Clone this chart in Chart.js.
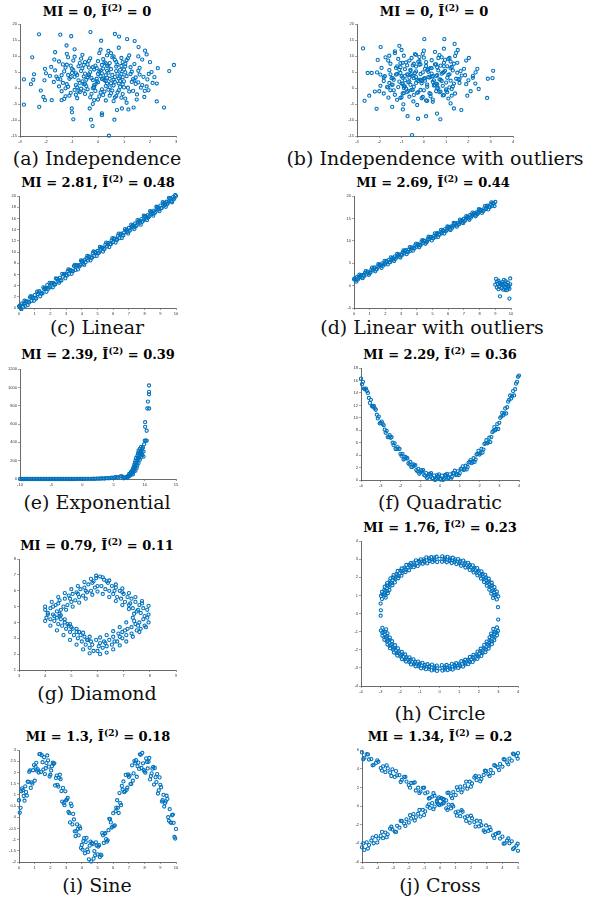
<!DOCTYPE html>
<html>
<head>
<meta charset="utf-8">
<script src="https://cdn.jsdelivr.net/npm/chart.js"></script>
<style>
body { margin: 0; background: #fff; width: 607px; height: 901px; position: relative; overflow: hidden; }
canvas { position: absolute; }
.ttl { position: absolute; transform: translate(-50%, -50%); font-family: "DejaVu Serif"; font-weight: bold; font-size: 13px; white-space: nowrap; color: #000; }
.ttl sup { font-size: 9px; vertical-align: 5px; line-height: 0; }
.cap { position: absolute; transform: translate(-50%, -50%); font-family: "DejaVu Serif"; font-size: 19px; white-space: nowrap; color: #111; }
</style>
</head>
<body>
<script>
// titles / captions
var miLabels = ['0', '0', '2.81', '2.69', '2.39', '2.29', '0.79', '1.76', '1.3', '1.34'];
var iLabels = ['0', '0', '0.48', '0.44', '0.39', '0.36', '0.11', '0.23', '0.18', '0.2'];
var captions = ['(a) Independence', '(b) Independence with outliers', '(c) Linear', '(d) Linear with outliers',
    '(e) Exponential', '(f) Quadratic', '(g) Diamond', '(h) Circle', '(i) Sine', '(j) Cross'];

// (a) independence
var indepPts = [
[-0.8,4.1],[0.3,2.2],[-0.2,6.5],[0.6,0.8],[1.1,3.7],[-1.3,5.2],[0.1,-1.4],[-0.5,8.1],[0.9,6.9],[-0.9,-0.6],
[0.4,4.8],[-0.1,1.1],[1.4,7.5],[-1.1,2.9],[0.7,-2.5],[-0.4,3.3],[0.2,9.0],[1.0,0.2],[-0.6,6.2],[0.5,5.9],
[-1.5,0.5],[1.2,-1.1],[-0.3,-2.9],[0.8,3.0],[0.0,4.4],[-0.7,1.6],[1.6,4.2],[-1.2,7.3],[0.3,7.7],[0.6,-4.1],
[-0.2,0.0],[0.9,9.4],[-0.9,9.8],[1.3,1.9],[-1.6,3.6],[0.1,5.5],[-0.5,-1.9],[0.4,-0.5],[1.7,0.9],[-1.0,4.7],
[0.2,3.0],[-0.3,5.0],[0.7,5.3],[1.5,-2.0],[-1.4,-1.0],[0.0,-3.6],[-0.6,10.4],[0.5,10.9],[1.1,8.7],[-0.8,-3.2],
[0.3,0.6],[-0.1,7.0],[0.8,1.4],[-1.2,1.2],[1.9,2.7],[-1.8,6.6],[0.6,2.6],[-0.4,-0.4],[1.0,5.8],[-0.7,7.8],
[0.2,-2.2],[0.9,-3.0],[-1.1,-2.4],[0.4,6.8],[-0.2,2.5],[1.3,5.1],[-1.5,8.3],[0.7,8.2],[-0.9,3.5],[0.1,3.7],
[1.6,6.3],[-0.5,4.5],[0.5,-1.6],[-1.3,-3.4],[1.2,10.2],[-0.3,9.3],[0.0,1.8],[0.8,-0.7],[-0.7,-1.3],[1.8,-0.9],
[-1.7,1.9],[0.3,4.0],[-0.1,-0.9],[0.6,9.9],[-0.6,2.1],[1.4,2.4],[-1.0,6.0],[0.2,6.1],[0.9,4.4],[-0.4,7.4],
[2.1,1.6],[-2.0,4.6],[0.5,1.5],[-0.8,0.3],[1.1,-4.6],[-0.2,-5.0],[0.4,11.6],[-1.2,10.7],[1.7,8.9],[0.0,8.4],
[2.3,6.2],[-2.2,-0.8],[0.7,6.7],[-0.5,1.3],[1.0,2.1],[-1.4,4.0],[0.3,-3.9],[-0.9,12.1],[0.8,12.6],[0.1,12.0],
[-0.35,3.9],[0.45,2.9],[-0.15,5.8],[0.65,1.9],[1.05,4.9],[-1.15,4.1],[0.15,-0.4],[-0.55,7.2],[0.85,5.7],[-0.85,0.9],
[0.35,5.4],[-0.05,2.1],[1.25,6.5],[-1.05,3.4],[0.75,-1.4],[-0.45,2.6],[0.25,8.0],[0.95,1.2],[-0.65,5.3],[0.55,4.1],
[-1.35,1.6],[1.15,0.1],[-0.25,-1.8],[0.85,3.6],[0.05,5.1],[-0.75,2.4],[1.45,3.3],[-1.25,6.4],[0.35,6.9],[0.65,-2.9],
[-0.15,0.9],[0.95,8.1],[-0.95,8.6],[1.35,2.8],[-1.45,2.7],[0.15,4.6],[-0.55,-0.8],[0.45,0.2],[1.55,1.8],[-0.95,5.6],
[0.25,2.4],[-0.35,4.3],[0.75,4.5],[1.35,-0.9],[-1.25,-0.1],[0.05,-2.6],[-0.65,9.2],[0.55,9.6],[1.05,7.6],[-0.85,-2.1],
[0.35,1.4],[-0.05,6.2],[0.85,2.2],[-1.15,0.4],[1.75,3.5],[-1.65,5.5],[0.65,3.4],[-0.45,0.6],[1.05,6.7],[-0.75,6.8],
[0.25,-1.1],[0.95,-1.9],[-1.05,-1.5],[0.45,7.8],[-0.25,3.1],[1.25,4.4],[-1.35,7.4],[0.75,7.3],[-0.85,4.6],[0.15,2.8],
[1.55,5.4],[-0.55,3.6],[0.55,-0.8],[-1.25,-2.6],[1.15,9.3],[-0.35,8.5],[-0.05,2.9],[0.85,0.3],[-0.65,-0.2],[1.65,0.1],
[-1.55,2.9],[0.35,3.2],[-0.15,0.2],[0.65,8.8],[-0.55,1.2],[1.45,1.3],[-1.05,7.0],[0.15,7.2],[0.95,3.4],[-0.35,6.4],
[1.95,4.4],[-1.85,3.8],[0.45,-2.4],[-0.75,-0.9],[1.05,-3.3],[-0.15,-3.8],[0.35,10.2],[-1.15,9.6],[1.55,9.9],[0.05,10.9],
[-2.27,16.8],[-1.45,16.7],[-1.03,16.2],[-0.29,17.5],[0.65,16.9],[0.81,16.1],[-2.85,2.7],[-2.85,-5.2],[-2.53,9.6],
[-2.26,-5.9],[2.92,7.2],[2.74,5.3],[2.54,-6.1],[2.26,-4.2],[0.42,-14.9],[-0.21,-11.9],[-0.27,-9.9],[0.63,-9.9],
[-0.95,-9.8],[-1.0,-7.6],[0.15,-7.9],[1.12,15.3],[1.41,14.7],[1.56,12.8],[1.81,11.7],[1.87,10.5],[0.12,14.8],
[-2.49,2.6],[-2.46,4.3],[-2.58,1.2],[-2.04,6.0],[-2.06,2.4],[-2.1,-2.8],[-2.04,-3.8],[-1.78,-3.8],[-1.65,11.2],
[-1.68,8.9],[-1.21,13.3],[2.0,8.1],[2.06,5.0],[2.17,3.4],[2.26,1.4],[1.87,0.5],[1.94,-0.7],[1.78,-2.8],[1.49,-3.6],
[1.37,-6.1],[1.17,-6.7],[0.92,-6.4],[0.73,-6.9],[0.15,-8.5],[-0.32,-6.4],[-1.01,-6.4],[-1.4,-3.8]
];

// (b) independence with outliers
var indepOutPts = [
[-0.5,3.8],[0.4,1.9],[0.1,6.9],[-0.9,0.6],[0.8,4.5],[-1.4,3.1],[0.3,-1.8],[-0.2,8.4],[1.2,6.2],[-0.7,-0.9],
[0.6,4.0],[-1.0,1.4],[1.5,7.9],[-0.3,2.6],[0.9,-2.2],[-0.6,5.4],[0.0,9.5],[1.3,0.5],[-1.2,6.8],[0.2,5.1],
[-1.6,0.2],[1.0,-0.8],[-0.1,-3.2],[0.7,2.7],[-0.4,4.7],[-1.1,2.0],[1.7,3.9],[-1.5,7.6],[0.5,7.4],[0.4,-4.3],
[-0.8,-0.2],[1.1,9.1],[-0.9,10.1],[1.6,1.6],[-1.8,3.3],[0.2,5.9],[-0.3,-1.5],[0.6,-0.1],[1.9,1.2],[-1.2,4.4],
[0.0,2.9],[-0.6,5.7],[0.9,5.0],[1.4,-1.7],[-1.5,-0.7],[0.1,-3.9],[-0.4,10.6],[0.7,10.3],[1.2,8.3],[-1.0,-2.9],
[0.5,0.9],[-0.2,7.3],[1.0,1.7],[-1.4,1.0],[2.0,2.4],[-1.9,6.3],[0.8,2.2],[-0.5,-0.6],[1.3,5.5],[-0.8,8.0],
[0.3,-2.6],[1.1,-3.3],[-1.3,-2.1],[0.6,6.5],[-0.1,2.2],[1.5,4.8],[-1.6,8.6],[0.9,7.9],[-1.0,3.7],[0.2,3.4],
[1.8,6.0],[-0.7,4.2],[0.7,-1.3],[-1.2,-3.7],[1.4,10.0],[-0.2,9.7],[-0.1,1.5],[1.0,-0.4],[-0.9,-1.6],[2.1,-1.0],
[-1.8,2.2],[0.4,3.7],[0.0,-0.7],[0.8,9.6],[-0.7,1.8],[1.6,2.8],[-1.1,5.7],[0.3,6.3],[1.1,4.1],[-0.5,7.1],
[2.2,3.8],[-2.1,4.9],[0.6,1.2],[-0.9,0.0],[1.2,-4.8],[-0.3,-5.3],[0.5,11.3],[-1.3,10.9],[1.9,8.6],[0.1,8.1],
[2.4,6.0],[-2.2,-1.1],[0.9,6.8],[-0.6,1.0],[1.2,2.3],[-1.5,4.3],[0.4,-3.6],[-1.0,11.9],[0.9,12.3],[0.0,11.7],
[0.35,3.6],[-0.45,3.1],[0.15,5.6],[-0.65,2.0],[-1.05,4.7],[1.15,4.3],[-0.15,-0.6],[0.55,7.4],[-0.85,5.9],[0.85,0.7],
[-0.35,5.2],[0.05,2.3],[-1.25,6.3],[1.05,3.2],[-0.75,-1.2],[0.45,2.4],[-0.25,8.2],[-0.95,1.4],[0.65,5.5],[-0.55,4.3],
[1.35,1.4],[-1.15,0.3],[0.25,-1.6],[-0.85,3.8],[-0.05,4.9],[0.75,2.6],[-1.45,3.1],[1.25,6.6],[-0.35,6.7],[-0.65,-2.7],
[0.15,1.1],[-0.95,7.9],[0.95,8.8],[-1.35,2.6],[1.45,2.9],[-0.15,4.4],[0.55,-1.0],[-0.45,0.4],[-1.55,1.6],[0.95,5.4],
[-0.25,2.2],[0.35,4.5],[-0.75,4.3],[-1.35,-0.7],[1.25,-0.3],[-0.05,-2.8],[0.65,9.4],[-0.55,9.4],[-1.05,7.8],[0.85,-2.3],
[-0.35,1.6],[0.05,6.0],[-0.85,2.4],[1.15,0.2],[-1.75,3.7],[1.65,5.3],[-0.65,3.2],[0.45,0.8],[-1.05,6.5],[0.75,7.0],
[-0.25,-1.3],[-0.95,-1.7],[1.05,-1.3],[-0.45,7.6],[0.25,3.3],[-1.25,4.2],[1.35,7.6],[-0.75,7.1],[0.85,4.8],[-0.15,2.6],
[-1.55,5.6],[0.55,3.8],[-0.55,-0.6],[1.25,-2.4],[-1.15,9.1],[0.35,8.7],[0.05,3.1],[-0.85,0.5],[0.65,0.0],[-1.65,0.3],
[1.55,2.7],[-0.35,3.4],[0.15,0.4],[-0.65,8.6],[0.55,1.4],[-1.45,1.1],[1.05,6.8],[-0.15,7.4],[-0.95,3.2],[0.35,6.2],
[-1.95,4.2],[1.85,4.0],[-0.45,-2.2],[0.75,-1.1],[-1.05,-3.1],[0.15,-4.0],[-0.35,10.4],[1.15,9.4],[-1.55,10.1],[-0.05,10.7],
[-2.73,12.4],[-1.94,12.8],[-1.1,13.2],[0.02,15.3],[0.92,15.3],[1.38,13.8],[-2.66,-4.0],[-2.45,-2.4],[-2.12,-6.5],
[-2.34,4.7],[-2.52,4.7],[-2.07,8.8],[3.11,5.4],[3.08,3.1],[2.87,2.9],[2.84,-3.1],[2.46,-0.3],[2.31,1.4],[2.32,4.9],
[2.02,9.4],[1.68,-6.9],[1.35,-6.4],[0.74,-9.8],[0.1,-8.8],[-0.26,-9.6],[-0.73,-8.8],[-0.53,-14.7],[-0.94,-6.7],
[-0.92,-5.1],[-0.47,-4.2],[0.59,-8.0],[-1.42,-5.9],[-1.59,-3.0],[-1.8,-1.7],[-1.95,0.7],[1.52,11.9],[1.45,11.0],
[-1.72,9.6],[-1.3,11.5],[2.2,3.2],[1.95,-2.4],[-2.0,-1.0]
];

// (c) linear
var linearPts = [
[0.0,0.3],[0.1,0.0],[0.2,0.8],[0.3,0.7],[0.4,0.4],[0.5,1.2],[0.6,1.1],[0.7,1.9],[0.8,1.3],[0.9,1.8],
[1.0,2.3],[1.1,1.7],[1.2,2.5],[1.3,3.0],[1.4,2.6],[1.5,2.6],[1.6,3.4],[1.7,3.4],[1.8,4.1],[1.9,3.7],
[2.0,3.7],[2.1,4.5],[2.2,4.5],[2.3,4.2],[2.4,5.2],[2.5,4.8],[2.6,5.4],[2.7,4.9],[2.8,5.6],[2.9,6.1],
[3.0,5.9],[3.1,6.6],[3.2,6.1],[3.3,6.7],[3.4,6.6],[3.5,7.5],[3.6,6.8],[3.7,7.6],[3.8,7.6],[3.9,7.7],
[4.0,8.3],[4.1,7.9],[4.2,8.6],[4.3,8.9],[4.4,8.5],[4.5,9.2],[4.6,9.0],[4.7,9.8],[4.8,9.3],[4.9,9.9],
[5.0,10.2],[5.1,9.9],[5.2,10.6],[5.3,10.8],[5.4,10.5],[5.5,11.3],[5.6,11.0],[5.7,11.6],[5.8,11.4],[5.9,12.1],
[6.0,11.8],[6.1,12.4],[6.2,12.2],[6.3,12.9],[6.4,12.5],[6.5,13.3],[6.6,13.0],[6.7,13.5],[6.8,13.8],[6.9,13.6],
[7.0,14.3],[7.1,14.0],[7.2,14.6],[7.3,14.4],[7.4,15.1],[7.5,14.8],[7.6,15.4],[7.7,15.2],[7.8,15.9],[7.9,15.6],
[8.0,16.3],[8.1,16.0],[8.2,16.6],[8.3,16.4],[8.4,17.1],[8.5,16.8],[8.6,17.4],[8.7,17.2],[8.8,17.9],[8.9,17.6],
[9.0,18.3],[9.1,17.9],[9.2,18.6],[9.3,18.4],[9.4,19.0],[9.5,18.8],[9.6,19.5],[9.7,19.1],[9.8,19.8],[9.9,19.6],
[10.0,20.0],
[0.05,0.4],[0.25,0.2],[0.45,1.2],[0.65,1.0],[0.85,2.0],[1.05,1.8],[1.25,2.8],[1.45,2.6],[1.65,3.6],[1.85,3.4],
[2.05,4.4],[2.25,4.2],[2.45,5.2],[2.65,5.0],[2.85,6.0],[3.05,5.8],[3.25,6.8],[3.45,6.6],[3.65,7.6],[3.85,7.4],
[4.05,8.4],[4.25,8.2],[4.45,9.2],[4.65,9.0],[4.85,10.0],[5.05,9.8],[5.25,10.8],[5.45,10.6],[5.65,11.6],[5.85,11.4],
[6.05,12.4],[6.25,12.2],[6.45,13.2],[6.65,13.0],[6.85,14.0],[7.05,13.8],[7.25,14.8],[7.45,14.6],[7.65,15.6],[7.85,15.4],
[8.05,16.4],[8.25,16.2],[8.45,17.2],[8.65,17.0],[8.85,18.0],[9.05,17.8],[9.25,18.8],[9.45,18.6],[9.65,19.6],[9.85,19.4],
[0.15,-0.2],[0.35,1.3],[0.55,0.5],[0.75,2.1],[0.95,1.3],[1.15,2.9],[1.35,2.1],[1.55,3.7],[1.75,2.9],[1.95,4.5],
[2.15,3.7],[2.35,5.3],[2.55,4.5],[2.75,6.1],[2.95,5.3],[3.15,6.9],[3.35,6.1],[3.55,7.7],[3.75,6.9],[3.95,8.5],
[4.15,7.7],[4.35,9.3],[4.55,8.5],[4.75,10.1],[4.95,9.3],[5.15,10.9],[5.35,10.1],[5.55,11.7],[5.75,10.9],[5.95,12.5],
[6.15,11.7],[6.35,13.3],[6.55,12.5],[6.75,14.1],[6.95,13.3],[7.15,14.9],[7.35,14.1],[7.55,15.7],[7.75,14.9],[7.95,16.5],
[8.15,15.7],[8.35,17.3],[8.55,16.5],[8.75,18.1],[8.95,17.3],[9.15,18.9],[9.35,18.1],[9.55,19.7],[9.75,18.9],[9.95,20.2]
];

// (d) linear with outliers
var linOutPts = [
[0.0,1.45],[0.1,1.21],[0.2,1.94],[0.3,1.72],[0.4,2.11],[0.5,1.83],[0.6,2.37],[0.7,2.84],[0.8,2.51],[0.9,3.03],
[1.0,2.75],[1.1,3.50],[1.2,3.40],[1.3,4.09],[1.4,3.61],[1.5,4.13],[1.6,4.49],[1.7,4.31],[1.8,4.99],[1.9,4.82],
[2.0,4.78],[2.1,5.35],[2.2,5.71],[2.3,5.24],[2.4,5.88],[2.5,5.80],[2.6,6.54],[2.7,6.29],[2.8,6.75],[2.9,6.47],
[3.0,6.98],[3.1,7.41],[3.2,7.21],[3.3,7.92],[3.4,7.51],[3.5,8.02],[3.6,7.77],[3.7,8.51],[3.8,8.44],[3.9,9.00],
[4.0,8.71],[4.1,9.13],[4.2,8.97],[4.3,9.80],[4.4,9.54],[4.5,9.99],[4.6,9.64],[4.7,10.46],[4.8,10.40],[4.9,10.89],
[5.0,10.61],[5.1,11.08],[5.2,10.86],[5.3,11.75],[5.4,11.50],[5.5,11.94],[5.6,11.70],[5.7,12.17],[5.8,12.64],[5.9,12.39],
[6.0,12.94],[6.1,12.55],[6.2,13.21],[6.3,13.25],[6.4,13.81],[6.5,13.42],[6.6,14.03],[6.7,13.76],[6.8,14.33],[6.9,14.10],
[7.0,14.94],[7.1,14.69],[7.2,15.22],[7.3,14.98],[7.4,15.78],[7.5,15.56],[7.6,15.89],[7.7,15.68],[7.8,16.34],[7.9,16.19],
[8.0,16.83],[8.1,16.79],[8.2,16.60],[8.3,17.27],[8.4,17.11],[8.5,17.87],[8.6,17.63],[8.7,18.13],[8.8,17.83],[8.9,18.30],
[9.0,18.68],
[0.05,1.60],[0.25,1.38],[0.45,2.36],[0.65,2.15],[0.85,3.13],[1.05,2.92],[1.25,3.90],[1.45,3.68],[1.65,4.67],[1.85,4.45],
[2.05,5.44],[2.25,5.22],[2.45,6.20],[2.65,5.99],[2.85,6.97],[3.05,6.76],[3.25,7.74],[3.45,7.52],[3.65,8.51],[3.85,8.29],
[4.05,9.28],[4.25,9.06],[4.45,10.04],[4.65,9.83],[4.85,10.81],[5.05,10.60],[5.25,11.58],[5.45,11.36],[5.65,12.35],[5.85,12.13],
[6.05,13.12],[6.25,12.90],[6.45,13.88],[6.65,13.67],[6.85,14.65],[7.05,14.44],[7.25,15.42],[7.45,15.20],[7.65,16.19],[7.85,15.97],
[8.05,16.96],[8.25,16.74],[8.45,17.72],[8.65,17.51],[8.85,18.49],
[0.15,0.89],[0.35,2.47],[0.55,1.66],[0.75,3.24],[0.95,2.42],[1.15,4.01],[1.35,3.19],[1.55,4.78],[1.75,3.96],[1.95,5.54],
[2.15,4.73],[2.35,6.31],[2.55,5.50],[2.75,7.08],[2.95,6.26],[3.15,7.85],[3.35,7.03],[3.55,8.62],[3.75,7.80],[3.95,9.38],
[4.15,8.57],[4.35,10.15],[4.55,9.34],[4.75,10.92],[4.95,10.10],[5.15,11.69],[5.35,10.87],[5.55,12.46],[5.75,11.64],[5.95,13.22],
[6.15,12.41],[6.35,13.99],[6.55,13.18],[6.75,14.76],[6.95,13.94],[7.15,15.53],[7.35,14.71],[7.55,16.30],[7.75,15.48],[7.95,17.06],
[8.15,16.25],[8.35,17.83],[8.55,17.02],[8.75,18.60],[8.95,17.78],
[9.05,1.5],[9.1,0.9],[9.15,0.4],[9.2,1.1],[9.25,-0.2],[9.3,0.6],[9.3,-2.4],[9.35,0.2],[9.4,-0.6],[9.45,0.8],
[9.5,0.1],[9.5,-0.9],[9.55,1.3],[9.6,-0.3],[9.6,0.5],[9.65,-1.0],[9.7,0.3],[9.7,-0.5],[9.75,-1.0],[9.8,0.7],
[9.8,-0.2],[9.85,0.0],[9.9,-0.7],[9.9,-2.9],[9.95,1.6],[9.95,0.3],[9.0,0.2],[9.1,-0.4],[9.2,-0.8],[9.4,0.4],
[9.65,1.0],[9.85,-0.4]
];

// (e) exponential
var expPts = [
[-10.0,0],[-9.75,0],[-9.5,0],[-9.25,0],[-9.0,0],[-8.75,0],[-8.5,0],[-8.25,0],[-8.0,0],[-7.75,0],
[-7.5,0],[-7.25,0],[-7.0,0],[-6.75,0],[-6.5,0],[-6.25,0],[-6.0,0],[-5.75,0],[-5.5,0],[-5.25,0],
[-5.0,0],[-4.75,0],[-4.5,0],[-4.25,0],[-4.0,0],[-3.75,0],[-3.5,0],[-3.25,0],[-3.0,0],[-2.75,0],
[-2.5,0.1],[-2.25,0.1],[-2.0,0.1],[-1.75,0.1],[-1.5,0.2],[-1.25,0.2],[-1.0,0.3],[-0.75,0.4],[-0.5,0.5],[-0.25,0.6],
[0.0,0.8],[0.25,1.0],[0.5,1.3],[0.75,1.5],[1.0,1.9],[1.25,1.6],[1.5,2.4],[1.75,2.9],[2.0,2.2],[2.25,3.8],
[2.5,4.1],[2.75,3.4],[3.0,5.6],[3.25,6.2],[3.5,4.8],[3.75,8.1],[4.0,9.5],[4.25,7.2],[4.5,12.4],[4.75,14.0],
[5.0,10.6],[5.25,18.9],[5.5,21.3],[5.75,15.2],[6.0,27.0],[6.25,31.5],[6.5,22.4],
[6.6,8],[6.8,12],[7.0,15],[7.1,22],[7.2,18],[7.3,30],[7.4,25],[7.5,40],[7.5,55],[7.6,35],
[7.7,64],[7.8,48],[7.8,80],[7.9,60],[8.0,95],[8.0,70],[8.1,110],[8.1,52],[8.2,130],[8.2,88],
[8.3,150],[8.3,100],[8.4,120],[8.4,175],[8.5,135],[8.5,200],[8.5,90],[8.6,160],[8.6,230],[8.7,180],
[8.7,120],[8.8,250],[8.8,200],[8.8,150],[8.9,220],[8.9,280],[9.0,175],[9.0,260],[9.0,310],[9.1,230],
[9.1,290],[9.2,210],[9.2,330],[9.3,270],[9.3,300],[9.4,240],[9.4,350],[9.5,309],[9.5,280],[9.6,260],
[9.6,330],[9.7,344],[9.8,245],[9.8,300],[9.9,380],[10.0,420],[10.15,419],[10.3,419],[10.05,620],[10.05,570],
[10.3,527],[10.4,770],[10.7,770],[10.5,845],[10.68,925],[10.68,951],[10.68,1021]
];

// (f) quadratic
var quadPts = [
[-4.0,16.3],[-3.9,15.8],[-3.8,14.6],[-3.7,14.3],[-3.6,13.2],[-3.5,12.9],[-3.4,11.8],[-3.3,11.5],[-3.2,10.5],[-3.1,10.2],
[-3.0,9.2],[-2.9,9.0],[-2.8,8.1],[-2.7,7.9],[-2.6,6.9],[-2.5,6.8],[-2.4,6.0],[-2.3,5.9],[-2.2,5.0],[-2.1,5.0],
[-2.0,4.2],[-1.9,4.2],[-1.8,3.4],[-1.7,3.5],[-1.6,2.7],[-1.5,2.9],[-1.4,2.1],[-1.3,2.3],[-1.2,1.6],[-1.1,1.8],
[-1.0,1.2],[-0.9,1.4],[-0.8,0.8],[-0.7,1.1],[-0.6,0.5],[-0.5,0.9],[-0.4,0.3],[-0.3,0.7],[-0.2,0.2],[-0.1,0.6],
[0.0,0.1],[0.1,0.7],[0.2,0.2],[0.3,0.8],[0.4,0.3],[0.5,0.9],[0.6,0.5],[0.7,1.1],[0.8,0.8],[0.9,1.4],
[1.0,1.1],[1.1,1.8],[1.2,1.6],[1.3,2.3],[1.4,2.1],[1.5,2.9],[1.6,2.7],[1.7,3.5],[1.8,3.3],[1.9,4.2],
[2.0,4.1],[2.1,5.0],[2.2,4.9],[2.3,5.9],[2.4,5.9],[2.5,6.8],[2.6,6.9],[2.7,7.9],[2.8,8.0],[2.9,9.0],
[3.0,9.2],[3.1,10.2],[3.2,10.4],[3.3,11.5],[3.4,11.7],[3.5,12.9],[3.6,13.1],[3.7,14.3],[3.8,14.6],[3.9,15.8],
[4.0,16.8],
[-3.95,15.4],[-3.75,14.7],[-3.55,12.4],[-3.35,11.9],[-3.15,9.9],[-2.95,9.4],[-2.75,7.6],[-2.55,7.2],[-2.35,5.6],[-2.15,5.3],
[-1.95,3.9],[-1.75,3.7],[-1.55,2.5],[-1.35,2.5],[-1.15,1.4],[-0.95,1.6],[-0.75,0.7],[-0.55,1.0],[-0.35,0.3],[-0.15,0.8],
[0.05,0.2],[0.25,0.8],[0.45,0.4],[0.65,1.1],[0.85,0.9],[1.05,1.8],[1.25,1.7],[1.45,2.8],[1.65,2.9],[1.85,4.1],
[2.05,4.3],[2.25,5.8],[2.45,6.1],[2.65,7.7],[2.85,8.2],[3.05,10.0],[3.25,10.7],[3.45,12.6],[3.65,13.5],[3.85,15.5],
[-3.85,14.7],[-3.65,14.0],[-3.45,11.9],[-3.25,11.3],[-3.05,9.1],[-2.85,8.8],[-2.65,6.9],[-2.45,6.9],[-2.25,5.0],[-2.05,5.0],
[-1.85,3.3],[-1.65,3.5],[-1.45,2.1],[-1.25,2.4],[-1.05,1.0],[-0.85,1.6],[-0.65,0.3],[-0.45,1.1],[-0.25,0.0],[-0.05,0.9],
[0.15,0.0],[0.35,1.0],[0.55,0.2],[0.75,1.5],[0.95,0.8],[1.15,2.2],[1.35,1.7],[1.55,3.2],[1.75,2.9],[1.95,4.7],
[2.15,4.4],[2.35,6.4],[2.55,6.1],[2.75,8.5],[2.95,8.2],[3.15,10.8],[3.35,10.7],[3.55,13.6],[3.75,13.6],[3.95,16.6]
];

// (g) diamond
var diamondPts = [
[4.1,4.5],[4.2,4.9],[4.35,4.4],[4.3,5.0],[4.45,4.7],[4.5,5.2],[4.6,4.8],[4.55,5.4],[4.7,5.0],[4.75,5.5],
[4.85,5.1],[4.9,5.7],[5.0,5.3],[5.05,5.8],[5.15,5.4],[5.2,5.9],[5.3,5.6],[5.35,6.1],[5.45,5.7],[5.5,6.2],
[5.6,5.9],[5.65,6.4],[5.75,6.0],[5.8,6.5],[5.9,6.2],[5.95,6.8],[6.0,6.3],[5.85,6.6],[4.95,5.5],[4.4,5.1],
[5.55,6.0],[5.25,5.8],
[6.1,6.9],[6.15,6.3],[6.25,6.7],[6.3,6.1],[6.4,6.5],[6.45,6.0],[6.55,6.3],[6.6,5.8],[6.7,6.2],[6.75,5.6],
[6.85,6.0],[6.9,5.5],[7.0,5.8],[7.05,5.3],[7.15,5.6],[7.2,5.1],[7.3,5.5],[7.35,4.9],[7.45,5.3],[7.5,4.7],
[7.6,5.1],[7.65,4.6],[7.75,4.9],[7.8,4.4],[7.9,4.8],[7.95,4.5],[7.7,5.2],[6.35,6.6],[6.95,5.9],[7.25,5.2],
[6.65,6.0],[7.55,4.8],
[7.9,4.3],[7.95,4.0],[7.75,4.2],[7.8,3.8],[7.6,4.0],[7.65,3.6],[7.45,3.9],[7.5,3.5],[7.3,3.7],[7.3,3.3],
[7.15,3.6],[7.1,3.2],[6.95,3.4],[6.95,3.0],[6.8,3.3],[6.75,2.8],[6.6,3.1],[6.55,2.6],[6.45,2.9],[6.35,2.5],
[6.25,2.8],[6.2,2.4],[6.1,2.7],[6.0,2.2],[5.95,2.9],[6.05,2.5],[7.55,3.8],[7.05,3.5],[6.65,2.8],[7.4,4.1],
[6.85,3.1],[6.3,2.7],
[5.85,2.2],[5.8,2.6],[5.7,2.4],[5.65,2.9],[5.55,2.6],[5.5,3.1],[5.4,2.8],[5.35,3.2],[5.25,3.0],[5.2,3.4],
[5.1,3.2],[5.05,3.6],[4.95,3.4],[4.9,3.8],[4.8,3.6],[4.75,4.0],[4.65,3.8],[4.6,4.2],[4.5,3.9],[4.45,4.3],
[4.35,4.1],[4.3,4.5],[4.2,4.2],[4.1,4.6],[4.05,4.3],[4.0,4.8],[5.75,2.8],[5.3,3.4],[4.85,3.9],[4.55,4.4],
[5.6,2.9],[5.0,3.7],
[4.0,5.0],[4.25,5.3],[4.5,5.6],[4.75,5.85],[5.0,6.1],[5.25,6.3],[5.5,6.55],[5.75,6.75],[5.95,6.95],
[4.55,4.55],[4.8,4.8],[5.05,5.0],[5.3,5.25],[5.55,5.5],[5.8,5.75],[6.0,5.95],
[6.2,6.85],[6.45,6.65],[6.7,6.4],[6.95,6.15],[7.2,5.85],[7.45,5.6],[7.7,5.35],[7.95,5.05],
[6.2,5.8],[6.45,5.6],[6.7,5.35],[6.95,5.1],[7.2,4.85],[7.4,4.55],
[7.85,3.7],[7.6,3.4],[7.35,3.1],[7.1,2.8],[6.85,2.55],[6.6,2.3],[6.35,2.1],[6.1,2.0],
[7.35,4.3],[7.1,4.0],[6.85,3.7],[6.6,3.45],[6.35,3.2],[6.1,3.05],
[5.7,2.05],[5.45,2.3],[5.2,2.6],[4.95,2.9],[4.7,3.2],[4.45,3.5],[4.2,3.8],[4.0,4.1],
[5.7,3.1],[5.45,3.35],[5.2,3.6],[4.95,3.9],[4.75,4.2],[4.6,4.45]
];

// (h) circle
var circlePts = [
[2.92,0.78],[2.84,1.03],[2.74,1.28],[2.62,1.51],[2.47,1.73],[2.31,1.94],[2.14,2.14],[1.94,2.31],[1.73,2.47],[1.51,2.62],
[1.28,2.74],[1.03,2.84],[0.78,2.92],[0.52,2.97],[0.26,3.01],[0.0,3.02],
[2.73,0.86],[2.64,1.10],[2.54,1.32],[2.41,1.54],[2.27,1.74],[2.11,1.93],[1.93,2.11],[1.74,2.27],[1.54,2.41],[1.32,2.54],
[1.10,2.64],[0.86,2.73],[0.62,2.79],[0.37,2.83],[0.13,2.86],
[2.99,0.95],[2.92,1.21],[2.80,1.46],[2.66,1.70],[2.51,1.92],[2.33,2.14],[2.14,2.33],[1.92,2.51],[1.70,2.66],[1.46,2.80],
[1.21,2.92],[0.95,3.01],[0.68,3.08],[0.41,3.13],[0.14,3.16],
[2.91,1.06],[2.81,1.31],[2.68,1.55],[2.54,1.78],[2.37,1.99],[2.19,2.19],[1.99,2.37],[1.78,2.54],[1.55,2.68],[1.31,2.81],
[1.06,2.91],[0.80,2.99],[0.54,3.05],[0.27,3.09],
[2.76,1.01],[2.66,1.24],[2.55,1.47],[2.41,1.69],[2.25,1.89],[2.08,2.08],[1.89,2.25],[1.69,2.41],[1.47,2.55],[1.24,2.66],
[1.01,2.76],[0.76,2.84],[0.51,2.90],[0.26,2.93],
[-2.93,0.80],[-2.83,1.05],[-2.75,1.26],[-2.61,1.53],[-2.48,1.71],[-2.30,1.96],[-2.15,2.12],[-1.93,2.33],[-1.74,2.45],[-1.50,2.64],
[-1.29,2.72],[-1.02,2.86],[-0.79,2.90],[-0.51,2.99],[-0.27,2.99],
[-2.74,0.88],[-2.63,1.12],[-2.55,1.30],[-2.40,1.56],[-2.28,1.72],[-2.10,1.95],[-1.94,2.09],[-1.73,2.29],[-1.55,2.39],[-1.31,2.56],
[-1.11,2.62],[-0.85,2.75],[-0.63,2.77],[-0.36,2.85],[-0.12,2.84],
[-2.98,0.97],[-2.93,1.19],[-2.79,1.48],[-2.67,1.68],[-2.50,1.94],[-2.34,2.12],[-2.13,2.35],[-1.93,2.49],[-1.69,2.68],[-1.47,2.78],
[-1.20,2.94],[-0.96,2.99],[-0.67,3.10],[-0.42,3.11],[-0.15,3.14],
[-2.91,1.06],[-2.81,1.31],[-2.68,1.55],[-2.54,1.78],[-2.37,1.99],[-2.19,2.19],[-1.99,2.37],[-1.78,2.54],[-1.55,2.68],[-1.31,2.81],
[-1.06,2.91],[-0.80,2.99],[-0.54,3.05],[-0.27,3.09],
[-2.76,1.01],[-2.66,1.24],[-2.55,1.47],[-2.41,1.69],[-2.25,1.89],[-2.08,2.08],[-1.89,2.25],[-1.69,2.41],[-1.47,2.55],[-1.24,2.66],
[-1.01,2.76],[-0.76,2.84],[-0.51,2.90],[-0.26,2.93],
[-2.91,-0.79],[-2.85,-1.02],[-2.73,-1.29],[-2.63,-1.50],[-2.46,-1.74],[-2.32,-1.93],[-2.13,-2.15],[-1.95,-2.30],[-1.72,-2.48],[-1.52,-2.61],
[-1.27,-2.75],[-1.04,-2.83],[-0.77,-2.93],[-0.53,-2.96],[-0.25,-3.02],[0.01,-3.03],
[-2.72,-0.87],[-2.65,-1.09],[-2.53,-1.33],[-2.42,-1.53],[-2.26,-1.75],[-2.12,-1.92],[-1.92,-2.12],[-1.75,-2.26],[-1.53,-2.42],[-1.33,-2.53],
[-1.09,-2.65],[-0.87,-2.72],[-0.61,-2.80],[-0.38,-2.82],[-0.14,-2.87],
[-2.99,-0.94],[-2.91,-1.22],[-2.81,-1.45],[-2.65,-1.71],[-2.52,-1.91],[-2.32,-2.15],[-2.15,-2.32],[-1.91,-2.52],[-1.71,-2.65],[-1.45,-2.81],
[-1.22,-2.91],[-0.94,-3.02],[-0.69,-3.07],[-0.40,-3.14],[-0.13,-3.17],
[-2.91,-1.06],[-2.81,-1.31],[-2.68,-1.55],[-2.54,-1.78],[-2.37,-1.99],[-2.19,-2.19],[-1.99,-2.37],[-1.78,-2.54],[-1.55,-2.68],[-1.31,-2.81],
[-1.06,-2.91],[-0.80,-2.99],[-0.54,-3.05],[-0.27,-3.09],
[-2.76,-1.01],[-2.66,-1.24],[-2.55,-1.47],[-2.41,-1.69],[-2.25,-1.89],[-2.08,-2.08],[-1.89,-2.25],[-1.69,-2.41],[-1.47,-2.55],[-1.24,-2.66],
[-1.01,-2.76],[-0.76,-2.84],[-0.51,-2.90],[-0.26,-2.93],
[2.93,-0.77],[2.83,-1.04],[2.75,-1.27],[2.61,-1.52],[2.48,-1.72],[2.30,-1.95],[2.15,-2.13],[1.93,-2.32],[1.74,-2.46],[1.50,-2.63],
[1.29,-2.73],[1.02,-2.85],[0.79,-2.91],[0.51,-2.98],[0.27,-3.00],
[2.74,-0.85],[2.63,-1.11],[2.55,-1.31],[2.40,-1.55],[2.28,-1.73],[2.10,-1.94],[1.94,-2.10],[1.73,-2.28],[1.55,-2.40],[1.31,-2.55],
[1.11,-2.63],[0.85,-2.74],[0.63,-2.78],[0.36,-2.84],[0.12,-2.85],
[2.98,-0.96],[2.93,-1.20],[2.79,-1.47],[2.67,-1.69],[2.50,-1.93],[2.34,-2.13],[2.13,-2.34],[1.93,-2.50],[1.69,-2.67],[1.47,-2.79],
[1.20,-2.93],[0.96,-3.00],[0.67,-3.09],[0.42,-3.12],[0.15,-3.15],
[2.91,-1.06],[2.81,-1.31],[2.68,-1.55],[2.54,-1.78],[2.37,-1.99],[2.19,-2.19],[1.99,-2.37],[1.78,-2.54],[1.55,-2.68],[1.31,-2.81],
[1.06,-2.91],[0.80,-2.99],[0.54,-3.05],[0.27,-3.09],
[2.76,-1.01],[2.66,-1.24],[2.55,-1.47],[2.41,-1.69],[2.25,-1.89],[2.08,-2.08],[1.89,-2.25],[1.69,-2.41],[1.47,-2.55],[1.24,-2.66],
[1.01,-2.76],[0.76,-2.84],[0.51,-2.90],[0.26,-2.93],
[-3.0,0.55],[-2.99,0.18],[-3.0,-0.12],[2.98,0.35],[2.99,-0.33]
];

// (i) sine
var sinePts = [
[0.0,0.76],[0.1,0.42],[0.2,1.29],[0.3,0.95],[0.4,1.38],[0.5,0.97],[0.6,1.58],[0.7,2.09],[0.8,1.56],[0.9,2.10],
[1.0,1.63],[1.1,2.43],[1.2,2.14],[1.3,2.82],[1.4,2.02],[1.5,2.46],[1.6,2.68],[1.7,2.19],[1.8,2.76],[1.9,2.26],
[2.0,1.90],[2.1,2.28],[2.2,2.39],[2.3,1.42],[2.4,1.86],[2.5,1.37],[2.6,1.90],[2.7,1.17],[2.8,1.31],[2.9,0.54],
[3.0,0.75],[3.1,0.86],[3.2,0.18],[3.3,0.61],[3.4,-0.32],[3.5,-0.10],[3.6,-0.84],[3.7,-0.32],[3.8,-0.81],[3.9,-0.50],
[4.0,-1.24],[4.1,-1.07],[4.2,-1.61],[4.3,-0.92],[4.4,-1.55],[4.5,-1.27],[4.6,-1.98],[4.7,-1.20],[4.8,-1.51],[4.9,-1.12],
[5.0,-1.66],[5.1,-1.25],[5.2,-1.67],[5.3,-0.71],[5.4,-1.15],[5.5,-0.71],[5.6,-1.09],[5.7,-0.58],[5.8,-0.09],[5.9,-0.46],
[6.0,0.18],[6.1,-0.36],[6.2,0.43],[6.3,0.42],[6.4,1.08],[6.5,0.54],[6.6,1.24],[6.7,1.12],[6.8,1.89],[6.9,1.32],
[7.0,1.80],[7.1,1.48],[7.2,2.32],[7.3,1.96],[7.4,2.43],[7.5,1.81],[7.6,2.44],[7.7,2.81],[7.8,2.20],[7.9,2.41],
[8.0,2.04],[8.1,2.63],[8.2,2.18],[8.3,2.65],[8.4,1.84],[8.5,2.17],[8.6,1.46],[8.7,1.79],[8.8,1.93],[8.9,1.20],
[9.0,1.45],[9.1,0.70],[9.2,1.00],[9.3,0.64],[9.4,0.96],[9.5,0.00],[9.6,0.36],[9.7,-0.25],[9.8,0.12],[9.9,-0.88],
[10.0,-0.52],
[0.05,0.20],[0.25,1.21],[0.45,1.12],[0.65,2.03],[0.85,1.50],[1.05,2.26],[1.25,2.00],[1.45,2.77],[1.65,1.93],[1.85,2.54],
[2.05,2.09],[2.25,2.41],[2.45,1.45],[2.65,1.70],[2.85,0.63],[3.05,0.79],[3.25,-0.23],[3.45,0.15],[3.65,-0.63],[3.85,-0.41],
[4.05,-1.45],[4.25,-1.11],[4.45,-1.88],[4.65,-1.15],[4.85,-1.70],[5.05,-1.31],[5.25,-1.70],[5.45,-0.74],[5.65,-1.03],[5.85,-0.23],
[6.05,-0.40],[6.25,0.76],[6.45,0.63],[6.65,1.60],[6.85,1.22],[7.05,1.86],[7.25,1.63],[7.45,2.55],[7.65,2.16],[7.85,2.87],
[8.05,1.99],[8.25,2.48],[8.45,1.96],[8.65,2.20],[8.85,1.06],[9.05,1.34],[9.25,0.48],[9.45,0.82],[9.65,-0.23],[9.85,-0.25],
[0.15,1.16],[0.35,0.74],[0.55,1.59],[0.75,1.31],[0.95,2.33],[1.15,2.08],[1.35,2.83],[1.55,2.13],[1.75,2.42],[1.95,1.82],
[2.15,2.44],[2.35,1.75],[2.55,1.76],[2.75,0.70],[2.95,1.16],[3.15,0.24],[3.35,0.50],[3.55,-0.63],[3.75,-0.52],[3.95,-1.37],
[4.15,-0.93],[4.35,-1.44],[4.55,-1.09],[4.75,-1.85],[4.95,-1.27],[5.15,-1.78],[5.35,-0.81],[5.55,-0.98],[5.75,-0.07],[5.95,-0.43],
[6.15,0.27],[6.35,0.19],[6.55,1.40],[6.75,1.16],[6.95,1.91],[7.15,1.49],[7.35,2.51],[7.55,2.28],[7.75,2.79],[7.95,2.10],
[8.15,2.47],[8.35,1.69],[8.55,2.25],[8.75,1.57],[8.95,1.78],[9.15,0.76],[9.35,0.71],[9.55,-0.16],[9.75,0.09],[9.95,-0.95]
];

// (j) cross
var crossPts = [
[-5.00,5.75],[-4.85,5.17],[-4.70,5.56],[-4.55,4.99],[-4.40,5.04],[-4.25,4.42],[-4.10,4.62],[-3.95,4.75],[-3.80,4.07],[-3.65,4.25],
[-3.50,3.63],[-3.35,4.04],[-3.20,3.60],[-3.05,3.94],[-2.90,3.12],[-2.75,3.30],[-2.60,3.32],[-2.45,2.80],[-2.30,3.13],[-2.15,2.62],
[-2.00,2.24],[-1.85,2.47],[-1.70,2.49],[-1.55,1.67],[-1.40,1.97],[-1.25,1.55],[-1.10,1.95],[-0.95,1.36],[-0.80,1.47],[-0.65,0.85],
[-0.50,1.02],[-0.35,1.11],[-0.20,0.57],[-0.05,0.93],[0.10,0.18],[0.25,0.35],[0.40,-0.24],[0.55,0.16],[0.70,-0.26],[0.85,-0.04],
[1.00,-0.67],[1.15,-0.59],[1.30,-1.09],[1.45,-0.61],[1.60,-1.21],[1.75,-1.10],[1.90,-1.79],[2.05,-1.31],[2.20,-1.72],[2.35,-1.57],
[2.50,-2.19],[2.65,-2.06],[2.80,-2.62],[2.95,-2.08],[3.10,-2.67],[3.25,-2.57],[3.40,-3.15],[3.55,-3.02],[3.70,-2.90],[3.85,-3.49],
[4.00,-3.28],[4.15,-4.01],[4.30,-3.69],[4.45,-4.00],[4.60,-3.78],[4.75,-4.51],[4.90,-4.24],[5.00,-4.80],
[-4.92,5.02],[-4.62,5.54],[-4.32,4.37],[-4.02,4.90],[-3.72,3.80],[-3.42,4.37],[-3.12,3.22],[-2.82,3.75],[-2.52,2.58],[-2.22,3.12],
[-1.92,1.97],[-1.62,2.53],[-1.32,1.39],[-1.02,1.96],[-0.72,0.81],[-0.42,1.37],[-0.12,0.22],[0.18,0.74],[0.48,-0.42],[0.78,0.12],
[1.08,-1.03],[1.38,-0.45],[1.68,-1.59],[1.98,-1.04],[2.28,-2.20],[2.58,-1.63],[2.88,-2.78],[3.18,-2.27],[3.48,-3.42],[3.78,-2.86],
[4.08,-4.03],[4.38,-3.48],[4.68,-4.61],[4.98,-4.04],
[-5.00,-4.43],[-4.85,-4.70],[-4.70,-3.90],[-4.55,-4.19],[-4.40,-3.70],[-4.25,-3.99],[-4.10,-3.23],[-3.95,-3.49],[-3.80,-3.20],[-3.65,-3.45],
[-3.50,-2.84],[-3.35,-3.03],[-3.20,-2.43],[-3.05,-2.51],[-2.90,-2.74],[-2.75,-2.12],[-2.60,-2.32],[-2.45,-1.60],[-2.30,-1.88],[-2.15,-1.42],
[-2.00,-1.77],[-1.85,-1.34],[-1.70,-0.86],[-1.55,-1.21],[-1.40,-0.82],[-1.25,-1.13],[-1.10,-0.42],[-0.95,-0.57],[-0.80,-0.04],[-0.65,-0.20],
[-0.50,0.32],[-0.35,-0.06],[-0.20,0.41],[-0.05,0.09],[0.10,0.84],[0.25,0.73],[0.40,0.61],[0.55,1.43],[0.70,1.10],[0.85,1.50],
[1.00,1.17],[1.15,1.71],[1.30,2.08],[1.45,1.76],[1.60,2.19],[1.75,1.86],[1.90,2.61],[2.05,2.42],[2.20,3.06],[2.35,2.78],
[2.50,3.19],[2.65,2.90],[2.80,3.33],[2.95,3.76],[3.10,3.43],[3.25,3.87],[3.40,3.53],[3.55,4.30],[3.70,4.14],[3.85,4.52],
[4.00,4.22],[4.15,4.98],[4.30,4.69],[4.45,5.09],[4.60,4.87],[4.75,5.54],[4.90,5.38],[5.00,5.68],
[-4.92,-4.01],[-4.62,-4.56],[-4.32,-3.39],[-4.02,-3.92],[-3.72,-2.77],[-3.42,-3.34],[-3.12,-2.22],[-2.82,-2.77],[-2.52,-1.60],[-2.22,-2.13],
[-1.92,-0.98],[-1.62,-1.55],[-1.32,-0.42],[-1.02,-0.97],[-0.72,0.19],[-0.42,-0.34],[-0.12,0.83],[0.18,0.28],[0.48,1.41],[0.78,0.84],
[1.08,2.00],[1.38,1.47],[1.68,2.63],[1.98,2.08],[2.28,3.22],[2.58,2.65],[2.88,3.79],[3.18,3.23],[3.48,4.38],[3.78,3.86],
[4.08,5.02],[4.38,4.47],[4.68,5.61],[4.98,5.08]
];

// panel layout: plot box [left, top, width, height], axis ranges [min, max, step], title and caption centres
var panels = [
    { pts: indepPts, box: [20, 23, 156, 113], xr: [-3, 3, 1], yr: [-15, 20, 5], title: [97, 11], cap: [97, 158] },
    { pts: indepOutPts, box: [357, 23, 156, 113], xr: [-3, 4, 1], yr: [-15, 20, 5], title: [434, 11], cap: [435, 158] },
    { pts: linearPts, box: [19, 195, 157, 113], xr: [0, 10, 1], yr: [0, 20, 2], title: [98, 182], cap: [97, 327] },
    { pts: linOutPts, box: [354, 195, 157, 113], xr: [0, 10, 1], yr: [-5, 20, 5], title: [433, 182], cap: [432, 327] },
    { pts: expPts, box: [20, 368, 156, 111], xr: [-10, 15, 5], yr: [0, 1200, 200], title: [98, 354], cap: [97, 502] },
    { pts: quadPts, box: [361, 367, 158, 113], xr: [-4, 4, 1], yr: [0, 18, 2], title: [440, 354], cap: [440, 502] },
    { pts: diamondPts, box: [19, 558, 157, 112], xr: [3, 9, 1], yr: [1, 8, 1], title: [97, 545], cap: [97, 693] },
    { pts: circlePts, box: [361, 540, 157, 146], xr: [-4, 4, 1], yr: [-4, 4, 1], title: [440, 527], cap: [440, 713] },
    { pts: sinePts, box: [19, 749, 157, 113], xr: [0, 10, 1], yr: [-2, 3, 0.5], title: [98, 736], cap: [97, 885] },
    { pts: crossPts, box: [362, 749, 156, 113], xr: [-5, 5, 1], yr: [-6, 6, 2], title: [440, 736], cap: [440, 885] }
];

var PAD_L = 12, PAD_T = 4, PAD_R = 6, PAD_B = 8;
var BLUE = '#0072bd';

panels.forEach(function (p, i) {
    var c = document.createElement('canvas');
    c.width = p.box[2] + PAD_L + PAD_R;
    c.height = p.box[3] + PAD_T + PAD_B;
    c.style.left = (p.box[0] - PAD_L) + 'px';
    c.style.top = (p.box[1] - PAD_T) + 'px';
    document.body.appendChild(c);

    var axisStyle = function (r, isX) {
        return {
            type: 'linear',
            min: r[0],
            max: r[1],
            ticks: {
                stepSize: r[2], autoSkip: false, maxRotation: 0, padding: 1,
                font: { size: 4, family: 'Liberation Sans' }, color: '#333',
                callback: function (v) { return String(v); }
            },
            grid: { drawOnChartArea: false, tickLength: 2, color: '#444', lineWidth: 0.5 },
            border: { color: '#444', width: 0.8 },
            afterFit: function (s) {
                if (isX) { s.height = PAD_B; } else { s.width = PAD_L; }
            }
        };
    };

    new Chart(c, {
        type: 'scatter',
        data: {
            datasets: [{
                data: p.pts.map(function (d) { return { x: d[0], y: d[1] }; }),
                pointRadius: 1.6,
                pointBorderWidth: 1.1,
                pointBorderColor: BLUE,
                pointBackgroundColor: 'rgba(0,0,0,0)',
                clip: 3
            }]
        },
        options: {
            responsive: false,
            animation: false,
            events: [],
            layout: { padding: { left: 0, top: PAD_T, right: PAD_R, bottom: 0 } },
            plugins: { legend: { display: false }, tooltip: { enabled: false } },
            scales: { x: axisStyle(p.xr, true), y: axisStyle(p.yr, false) }
        }
    });

    var t = document.createElement('div');
    t.className = 'ttl';
    t.style.left = p.title[0] + 'px';
    t.style.top = p.title[1] + 'px';
    t.innerHTML = 'MI = ' + miLabels[i] + ', \u0128<sup>(2)</sup> = ' + iLabels[i];
    document.body.appendChild(t);

    var cp = document.createElement('div');
    cp.className = 'cap';
    cp.style.left = p.cap[0] + 'px';
    cp.style.top = p.cap[1] + 'px';
    cp.textContent = captions[i];
    document.body.appendChild(cp);
});
</script>
</body>
</html>
